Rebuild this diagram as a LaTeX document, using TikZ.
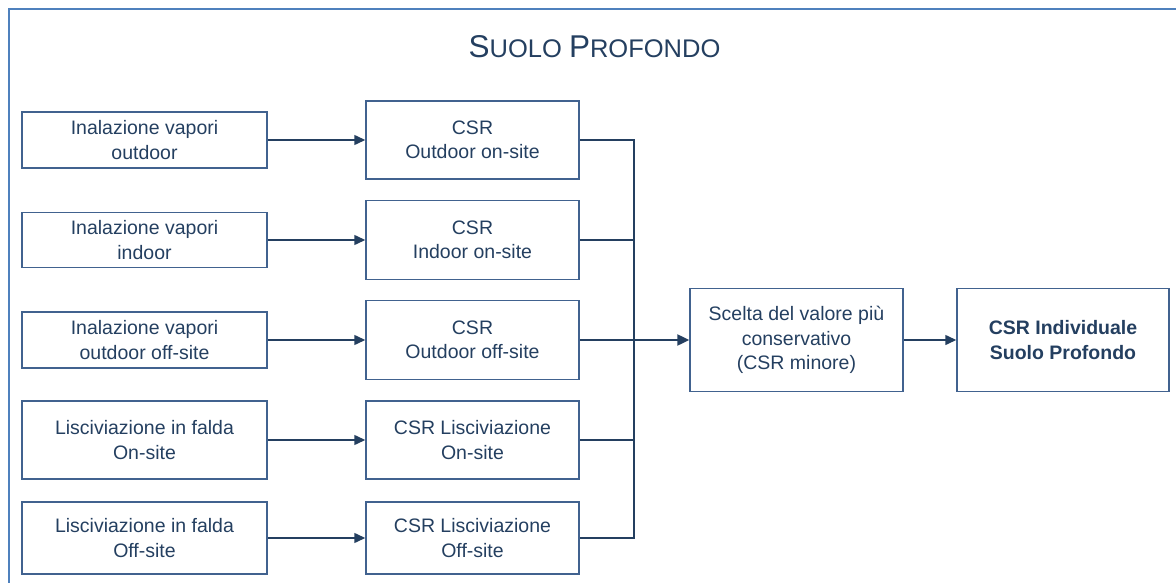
\documentclass[tikz,border=0pt]{standalone}
\usepackage{fontspec}
\setmainfont{Liberation Sans}
\usetikzlibrary{arrows.meta}
\definecolor{txt}{HTML}{243F60}
\definecolor{bord}{HTML}{41628F}
\definecolor{frame}{HTML}{4F81BD}
\begin{document}
\begin{tikzpicture}[x=1pt,y=-1pt,
  box/.style={draw=bord,line width=1.5pt,text=txt,align=center,inner sep=0pt,
    font=\fontsize{19.5}{24.5}\selectfont},
  conn/.style={draw=txt,line width=1.5pt},
  arr/.style={conn,-{Triangle[length=11pt,width=10pt]}}]
\useasboundingbox (0,0) rectangle (1176,583);
\draw[frame,line width=2pt] (9,583) -- (9,9) -- (1176,9);
\node[text=txt,inner sep=0pt] (title) at (594.5,47) {\fontsize{31.5}{31.5}\selectfont S\fontsize{25.5}{25.5}\selectfont UOLO \fontsize{31.5}{31.5}\selectfont P\fontsize{25.5}{25.5}\selectfont ROFONDO};
% left boxes
\node[box,minimum width=245pt,minimum height=56pt] (l1) at (144.5,140) {Inalazione vapori\\outdoor};
\node[box,minimum width=245pt,minimum height=55pt] (l2) at (144.5,240) {Inalazione vapori\\indoor};
\node[box,minimum width=245pt,minimum height=56pt] (l3) at (144.5,340) {Inalazione vapori\\outdoor off-site};
\node[box,minimum width=245pt,minimum height=78pt] (l4) at (144.5,440) {Lisciviazione in falda\\On-site};
\node[box,minimum width=245pt,minimum height=72pt] (l5) at (144.5,538) {Lisciviazione in falda\\Off-site};
% middle boxes
\node[box,minimum width=213pt,minimum height=78pt] (m1) at (472.5,140) {CSR\\Outdoor on-site};
\node[box,minimum width=213pt,minimum height=79pt] (m2) at (472.5,240) {CSR\\Indoor on-site};
\node[box,minimum width=213pt,minimum height=79pt] (m3) at (472.5,340) {CSR\\Outdoor off-site};
\node[box,minimum width=213pt,minimum height=78pt] (m4) at (472.5,440) {CSR Lisciviazione\\On-site};
\node[box,minimum width=213pt,minimum height=72pt] (m5) at (472.5,538) {CSR Lisciviazione\\Off-site};
% right boxes
\node[box,minimum width=213pt,minimum height=103pt] (sc) at (796.5,340) {Scelta del valore più\\conservativo\\(CSR minore)};
\node[box,minimum width=212pt,minimum height=103pt,font=\fontsize{19.5}{24.5}\selectfont\bfseries] (fin) at (1063,340) {CSR Individuale\\Suolo Profondo};
\coordinate (J) at (634,340);
% connectors left -> middle
\foreach \i in {1,...,5}{
  \draw[arr] (l\i.east) -- (l\i.east -| m\i.west);
}
% collector
\draw[conn] (m1.east) -| (J);
\draw[conn] (m5.east) -| (J);
\draw[conn] (m2.east) -- (m2.east -| J);
\draw[conn] (m4.east) -- (m4.east -| J);
\draw[conn] (m3.east) -- (m3.east -| J);
\draw[conn,line width=2.4pt,-{Triangle[length=12pt,width=11pt]}] (J) -- (sc.west);
\draw[arr] (sc.east) -- (fin.west);
\end{tikzpicture}
\end{document}
